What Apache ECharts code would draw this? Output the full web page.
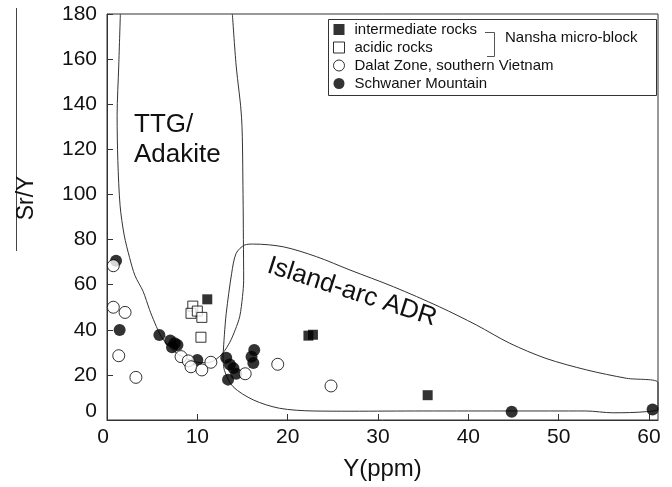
<!DOCTYPE html>
<html>
<head>
<meta charset="utf-8">
<title>Sr/Y vs Y discrimination diagram</title>
<script src="https://cdn.jsdelivr.net/npm/echarts@6/dist/echarts.min.js"></script>
<style>
  html, body { margin: 0; padding: 0; background: #fff; }
  #chart { width: 672px; height: 487px; }
</style>
</head>
<body>
<div id="chart"></div>
<script>
// Y (ppm) vs Sr/Y samples
const intermediateRocks = [[11.1, 53.5], [22.3, 37.4], [22.8, 37.8], [35.5, 11.0]];
const acidicRocks = [[9.5, 50.5], [9.3, 47.3], [10.0, 48.3], [10.5, 45.5], [10.4, 36.7]];
const dalatZone = [
  [0.7, 68.4], [0.7, 50.0], [2.0, 47.7], [1.3, 28.5], [3.2, 18.9],
  [8.2, 28.1], [9.0, 26.2], [9.3, 23.6], [10.5, 22.2], [11.5, 25.6],
  [15.3, 20.5], [18.9, 24.7], [24.8, 15.1]
];
const schwanerMountain = [
  [1.0, 70.6], [1.4, 39.9], [5.8, 37.7], [7.0, 35.2], [7.5, 34.0], [7.2, 32.3],
  [7.8, 33.2], [10.0, 26.6], [13.2, 27.6], [13.6, 24.6], [14.0, 23.0], [14.3, 20.5],
  [13.4, 17.9], [16.3, 31.0], [16.0, 28.0], [16.2, 25.3], [44.8, 3.7], [60.4, 4.7]
];

// Field boundaries
const ttgField = [
  [1.48, 180], [1.3, 157], [1.12, 135], [1.2, 115], [1.45, 95], [1.9, 82], [2.5, 72],
  [3.1, 64], [4.0, 57], [4.7, 49], [5.3, 43], [6.0, 37], [6.9, 32.5], [8.0, 28.8],
  [9.2, 26.6], [10.3, 25.4], [11.4, 25.6], [12.1, 27.0], [12.85, 29.8], [13.6, 34.5],
  [14.2, 40], [14.7, 46], [15.0, 54.7], [15.13, 62], [15.1, 80], [15.06, 100],
  [14.9, 134], [14.3, 157], [13.88, 180]
];
const islandArcField = [
  [12.84, 28.1], [13.0, 38], [13.2, 47.3], [13.8, 65], [14.3, 73.9], [15.25, 77.6],
  [16.2, 78], [19.5, 76.8], [23.2, 72.4], [26.9, 66.5], [31.7, 59.1], [36.8, 50.2],
  [40.9, 42.1], [44.6, 34], [48.6, 27.3], [53.1, 22.2], [57.5, 18.5], [61, 16.5],
  [61, 5.2], [59.7, 3.7], [56, 3.2], [53, 4.0], [45, 4.0], [35, 4.0], [27, 3.9],
  [22.8, 4.0], [19.1, 5.2], [16.2, 8.9], [13.95, 14.8], [13.0, 22], [12.84, 28.1]
];

const xTicks = { min: 0, max: 61, interval: 10 };
const yTicks = { min: 0, max: 180, interval: 20 };

const FONT = 'Liberation Sans, Arial, sans-serif';
const INK = '#111';
const LINE = '#333';

const chart = echarts.init(document.getElementById('chart'), null, { renderer: 'canvas' });

const openStyle = { color: '#fff', borderColor: '#000', borderWidth: 1 };
const filledStyle = { color: '#000', borderColor: '#000', borderWidth: 0 };

chart.setOption({
  animation: false,
  backgroundColor: '#fff',
  grid: {
    left: 107, right: 14, top: 14, bottom: 67,
    show: true, borderColor: LINE, borderWidth: 1, backgroundColor: 'transparent'
  },
  xAxis: {
    type: 'value',
    min: xTicks.min, max: xTicks.max, interval: xTicks.interval,
    name: 'Y(ppm)', nameLocation: 'middle', nameGap: 37,
    nameTextStyle: { fontFamily: FONT, fontSize: 24, color: INK },
    axisLine: { show: true, lineStyle: { color: LINE, width: 1 } },
    axisTick: { show: true, inside: true, length: 6, lineStyle: { color: LINE } },
    axisLabel: {
      fontFamily: FONT, fontSize: 21, color: INK, margin: 7,
      formatter: v => (v === 0 ? '{shift|0}' : String(v)),
      rich: { shift: { fontFamily: FONT, fontSize: 21, color: INK, padding: [0, 8, 0, 0] } }
    },
    splitLine: { show: false }
  },
  yAxis: {
    type: 'value',
    min: yTicks.min, max: yTicks.max, interval: yTicks.interval,
    axisLine: { show: true, lineStyle: { color: LINE, width: 1 } },
    axisTick: { show: true, inside: true, length: 6, lineStyle: { color: LINE } },
    axisLabel: {
      fontFamily: FONT, fontSize: 21, color: INK, margin: 10,
      formatter: v => (v === 0 ? '{lift|0}' : String(v)),
      rich: { lift: { fontFamily: FONT, fontSize: 21, color: INK, padding: [0, 0, 18, 0] } }
    },
    splitLine: { show: false }
  },
  legend: {
    orient: 'vertical', left: 333, top: 22, padding: 0,
    itemWidth: 11, itemHeight: 11, itemGap: 3,
    textStyle: { fontFamily: FONT, fontSize: 15, color: INK, padding: [0, 0, 0, 5] },
    data: [
      { name: 'intermediate rocks', icon: 'rect', itemStyle: filledStyle },
      { name: 'acidic rocks', icon: 'rect', itemStyle: openStyle },
      { name: 'Dalat Zone, southern Vietnam', icon: 'circle', itemStyle: openStyle },
      { name: 'Schwaner Mountain', icon: 'circle', itemStyle: filledStyle }
    ]
  },
  graphic: [
    // legend frame and group bracket
    { type: 'rect', shape: { x: 328.5, y: 19.5, width: 328, height: 76 },
      style: { fill: 'none', stroke: LINE, lineWidth: 1 }, z: 10 },
    { type: 'polyline', shape: { points: [[485, 32.5], [494.5, 32.5], [494.5, 56.5], [487, 56.5]] },
      style: { fill: 'none', stroke: '#555', lineWidth: 1 }, z: 10 },
    { type: 'text', x: 505, y: 38, z: 10,
      style: { text: 'Nansha micro-block', font: '15px ' + FONT, fill: INK, verticalAlign: 'middle' } },
    // vertical axis title
    { type: 'line', shape: { x1: 16.5, y1: 8, x2: 16.5, y2: 251 },
      style: { stroke: '#444', lineWidth: 1 } },
    { type: 'text', x: 27, y: 198, rotation: Math.PI / 2,
      style: { text: 'Sr/Y', font: '23px ' + FONT, fill: INK, align: 'center', verticalAlign: 'middle' } },
    // field names
    { type: 'text', x: 134, y: 110,
      style: { text: 'TTG/\nAdakite', font: '26px ' + FONT, fill: INK, lineHeight: 30 } },
    { type: 'text', x: 352, y: 292, rotation: -0.31,
      style: { text: 'Island-arc ADR', font: '26px ' + FONT, fill: INK, align: 'center', verticalAlign: 'middle' } }
  ],
  series: [
    {
      type: 'line', name: 'TTG field', data: ttgField, smooth: 0.3,
      showSymbol: false, silent: true, z: 1,
      lineStyle: { color: LINE, width: 1 }
    },
    {
      type: 'line', name: 'Island-arc field', data: islandArcField, smooth: 0.3,
      showSymbol: false, silent: true, z: 1,
      lineStyle: { color: LINE, width: 1 }
    },
    {
      type: 'scatter', name: 'Schwaner Mountain', data: schwanerMountain,
      symbol: 'circle', symbolSize: 12, itemStyle: filledStyle, z: 3
    },
    {
      type: 'scatter', name: 'Dalat Zone, southern Vietnam', data: dalatZone,
      symbol: 'circle', symbolSize: 12, itemStyle: openStyle, z: 4
    },
    {
      type: 'scatter', name: 'acidic rocks', data: acidicRocks,
      symbol: 'rect', symbolSize: 10, itemStyle: openStyle, z: 5
    },
    {
      type: 'scatter', name: 'intermediate rocks', data: intermediateRocks,
      symbol: 'rect', symbolSize: 10, itemStyle: filledStyle, z: 5
    }
  ]
});
</script>
</body>
</html>
